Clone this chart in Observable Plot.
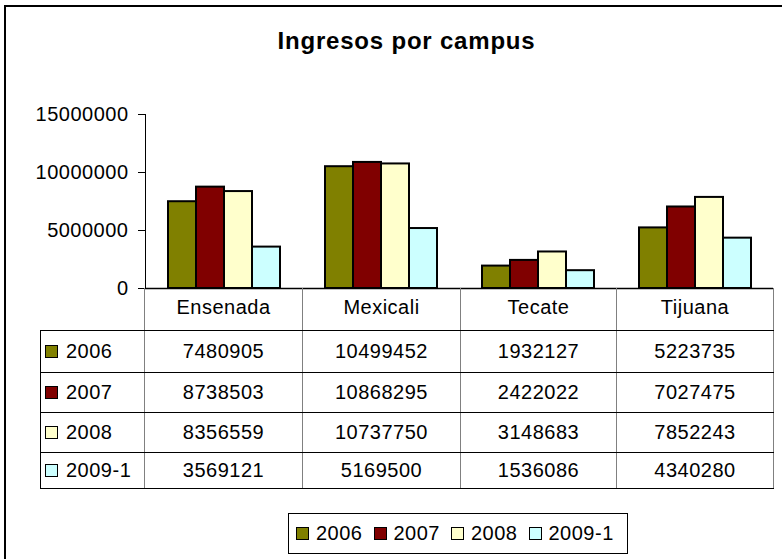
<!DOCTYPE html>
<html><head><meta charset="utf-8">
<script src="https://cdn.jsdelivr.net/npm/d3@7"></script>
<script src="https://cdn.jsdelivr.net/npm/@observablehq/plot@0.6"></script>
<style>
body{margin:0;background:#fff;}
#chart{position:relative;width:782px;height:559px;overflow:hidden;font-family:"Liberation Sans",Arial,sans-serif;color:#000;background:#fff;}
#frame{position:absolute;left:4px;top:5px;width:900px;height:700px;border-left:2px solid #000;border-top:2px solid #000;pointer-events:none;}
#title{position:absolute;left:31px;width:751px;top:29px;text-align:center;font-weight:bold;font-size:24px;line-height:24px;letter-spacing:0.8px;}
#plot{position:absolute;left:0;top:90px;}
#tbl{position:absolute;left:40px;top:288px;border-collapse:collapse;table-layout:fixed;font-size:20px;letter-spacing:0.5px;}
#tbl td{padding:0;text-align:center;vertical-align:middle;border-left:1.5px solid #808080;border-right:1.5px solid #808080;border-bottom:1.5px solid #000;line-height:20px;}
#tbl td.lab{text-align:left;padding-left:4px;border-left:1.5px solid #000;}
#tbl td.empty{border:none;border-bottom:1.5px solid #000;border-right:1.5px solid #808080;}
#tbl tr.head td{border-top:none;padding-bottom:4px;}
.sw{display:inline-block;width:13px;height:13px;box-sizing:border-box;border:1px solid #000;vertical-align:middle;margin-right:8px;position:relative;top:-1px;}
#legend{position:absolute;left:288px;top:513px;width:340px;height:41px;box-sizing:border-box;border:1px solid #000;display:flex;align-items:center;padding-left:7px;font-size:20px;letter-spacing:0.5px;}
#legend .item{display:flex;align-items:center;margin-right:11px;}
#legend .sw{margin-right:7px;top:0;}
</style>
</head><body>
<div id="chart">
  <div id="plot"></div>
  <div id="title">Ingresos por campus</div>
  <table id="tbl"></table>
  <div id="legend"></div>
  <div id="frame"></div>
</div>
<script>
const campuses = ["Ensenada","Mexicali","Tecate","Tijuana"];
const years = ["2006","2007","2008","2009-1"];
const v2006 = [7480905,10499452,1932127,5223735];
const v2007 = [8738503,10868295,2422022,7027475];
const v2008 = [8356559,10737750,3148683,7852243];
const v2009 = [3569121,5169500,1536086,4340280];
const colors = ["#808000","#800000","#FFFFCC","#CCFFFF"];
const yTicks = [0,5000000,10000000,15000000];

const series = [v2006,v2007,v2008,v2009];
const rows = years.flatMap((y,i)=>campuses.map((c,j)=>({campus:c,year:y,value:series[i][j]})));

const plot = Plot.plot({
  width:782, height:205,
  marginTop:24, marginBottom:7, marginLeft:144, marginRight:9,
  style:{fontFamily:"'Liberation Sans', Arial, sans-serif", fontSize:"20px", color:"#000", background:"transparent", overflow:"visible", letterSpacing:"0.5px"},
  fx:{domain:campuses, padding:0, axis:null},
  x:{domain:years, paddingInner:0, paddingOuter:0.72, axis:null},
  y:{domain:[0,15000000], ticks:yTicks, tickFormat:d3.format("d"), tickSize:7, tickPadding:10, label:null, line:true},
  color:{domain:years, range:colors},
  marks:[
    Plot.barY(rows,{fx:"campus", x:"year", y:"value", fill:"year", stroke:"#000", strokeWidth:2}),
    Plot.ruleY([0],{stroke:"#000", strokeWidth:1.5})
  ]
});
document.getElementById("plot").appendChild(plot);

// data table
const colW = [104,158,158,156,157];
const rowH = [42,42,40,40,36];
const tbl = document.getElementById("tbl");
const cg = document.createElement("colgroup");
colW.forEach(w=>{const c=document.createElement("col");c.style.width=w+"px";cg.appendChild(c);});
tbl.appendChild(cg);
const head = document.createElement("tr");
head.className="head"; head.style.height=rowH[0]+"px";
head.innerHTML = `<td class="empty"></td>` + campuses.map(c=>`<td>${c}</td>`).join("");
tbl.appendChild(head);
years.forEach((y,i)=>{
  const tr=document.createElement("tr");
  tr.style.height=rowH[i+1]+"px";
  tr.innerHTML = `<td class="lab"><span class="sw" style="background:${colors[i]}"></span>${y}</td>` +
    series[i].map(v=>`<td>${v}</td>`).join("");
  tbl.appendChild(tr);
});

// legend
const lg = document.getElementById("legend");
years.forEach((y,i)=>{
  const it=document.createElement("div");
  it.className="item";
  it.innerHTML=`<span class="sw" style="background:${colors[i]}"></span>${y}`;
  lg.appendChild(it);
});
</script>
</body></html>
